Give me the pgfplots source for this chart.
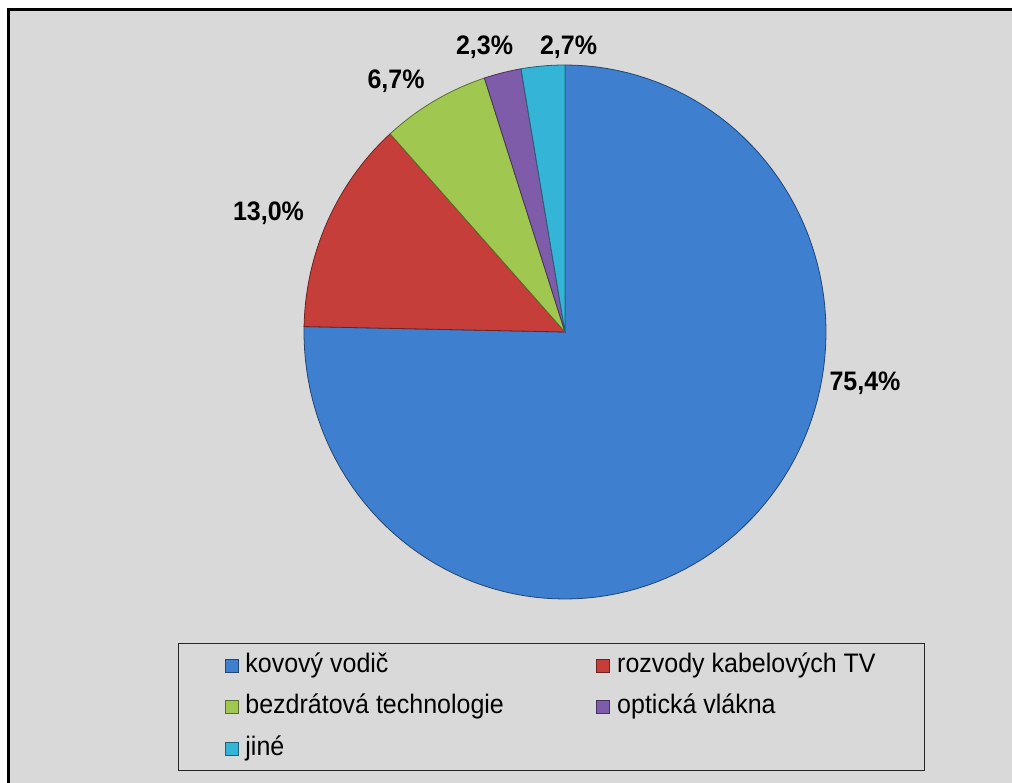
\documentclass[border=0pt]{standalone}
\usepackage{pgfplots}
\usepackage{pgfplotstable}
\pgfplotsset{compat=1.18}
\usepackage{fontspec}
\setmainfont{Liberation Sans}
\definecolor{cBlue}{RGB}{62,127,208}
\definecolor{cRed}{RGB}{198,62,58}
\definecolor{cGreen}{RGB}{160,200,80}
\definecolor{cPurple}{RGB}{126,92,170}
\definecolor{cCyan}{RGB}{52,180,215}
\definecolor{cBg}{RGB}{217,217,217}
\newcommand{\st}[1]{\scalebox{1}[1.07]{#1}}
\pgfplotstableread{
name value
kovovy 75.4
rozvody 13.0
bezdratova 6.7
opticka 2.3
jine 2.7
}\piedata
\begin{document}
\begin{tikzpicture}
% cumulative angles (clockwise from 12 o'clock), normalised by the sum
\pgfplotstablegetelem{0}{value}\of\piedata\let\vA\pgfplotsretval
\pgfplotstablegetelem{1}{value}\of\piedata\let\vB\pgfplotsretval
\pgfplotstablegetelem{2}{value}\of\piedata\let\vC\pgfplotsretval
\pgfplotstablegetelem{3}{value}\of\piedata\let\vD\pgfplotsretval
\pgfplotstablegetelem{4}{value}\of\piedata\let\vE\pgfplotsretval
\pgfmathsetmacro\tot{\vA+\vB+\vC+\vD+\vE}
\pgfmathsetmacro\aA{90}
\pgfmathsetmacro\aB{\aA-360*(\vA/\tot)}
\pgfmathsetmacro\aC{\aB-360*(\vB/\tot)}
\pgfmathsetmacro\aD{\aC-360*(\vC/\tot)}
\pgfmathsetmacro\aE{\aD-360*(\vD/\tot)}
\pgfmathsetmacro\aF{\aE-360*(\vE/\tot)}
\def\cx{565}\def\cy{332}\def\rx{261}\def\ry{267}
\begin{axis}[
  at={(0,0)}, anchor=south west,
  scale only axis, width=1012pt, height=783pt,
  xmin=0, xmax=1012, ymin=0, ymax=783, y dir=reverse,
  hide axis, clip=false,
  legend columns=2,
  legend image code/.code={\fill[#1] (0pt,-6.5pt) rectangle (13pt,6.5pt);\path (20pt,0pt);},
  legend style={at={(axis cs:178,643)}, anchor=north west,
    draw=black!85, line width=1.2pt, fill=none,
    font=\fontsize{25}{30}\selectfont,
    inner xsep=46pt, inner ysep=10.5pt, row sep=18.5pt,
    nodes={inner sep=0pt, text height=18pt, text depth=5pt, anchor=west},
    /tikz/every even column/.append style={column sep=0pt}},
  legend cell align=left,
]
\fill[white] (axis cs:0,0) rectangle (axis cs:1012,783);
\fill[cBg] (axis cs:8,10) rectangle (axis cs:1012,783);
\draw[black, line width=3pt] (axis cs:8,783) -- (axis cs:8,10) -- (axis cs:1012,10);

\addplot[fill=cBlue, draw=cBlue!55!black, line width=0.8pt, domain=\aB:\aA, samples=120, variable=\t]
  ({\cx+\rx*cos(\t)},{\cy-\ry*sin(\t)}) -- (axis cs:\cx,\cy) -- cycle;
\addlegendentry{\makebox[351pt][l]{\st{kovový vodič}}}
\addplot[fill=cRed, draw=cRed!55!black, line width=0.8pt, domain=\aC:\aB, samples=40, variable=\t]
  ({\cx+\rx*cos(\t)},{\cy-\ry*sin(\t)}) -- (axis cs:\cx,\cy) -- cycle;
\addlegendentry{\makebox[261pt][l]{\st{rozvody kabelových TV}}}
\addplot[fill=cGreen, draw=cGreen!55!black, line width=0.8pt, domain=\aD:\aC, samples=30, variable=\t]
  ({\cx+\rx*cos(\t)},{\cy-\ry*sin(\t)}) -- (axis cs:\cx,\cy) -- cycle;
\addlegendentry{\makebox[351pt][l]{\st{bezdrátová technologie}}}
\addplot[fill=cPurple, draw=cPurple!55!black, line width=0.8pt, domain=\aE:\aD, samples=15, variable=\t]
  ({\cx+\rx*cos(\t)},{\cy-\ry*sin(\t)}) -- (axis cs:\cx,\cy) -- cycle;
\addlegendentry{\makebox[261pt][l]{\st{optická vlákna}}}
\addplot[fill=cCyan, draw=cCyan!55!black, line width=0.8pt, domain=\aF:\aE, samples=15, variable=\t]
  ({\cx+\rx*cos(\t)},{\cy-\ry*sin(\t)}) -- (axis cs:\cx,\cy) -- cycle;
\addlegendentry{\makebox[351pt][l]{\st{jiné}}}

\begin{scope}[every node/.style={font=\bfseries\fontsize{25}{30}\selectfont, inner sep=0pt, anchor=base}]
\node at (axis cs:865,391) {\st{75,4\%}};
\node at (axis cs:268.5,221) {\st{13,0\%}};
\node at (axis cs:396,89) {\st{6,7\%}};
\node at (axis cs:484.5,55) {\st{2,3\%}};
\node at (axis cs:568.5,55) {\st{2,7\%}};
\end{scope}
\end{axis}
\pgfresetboundingbox
\path (0,0) rectangle (1012pt,783pt);
\end{tikzpicture}
\end{document}
